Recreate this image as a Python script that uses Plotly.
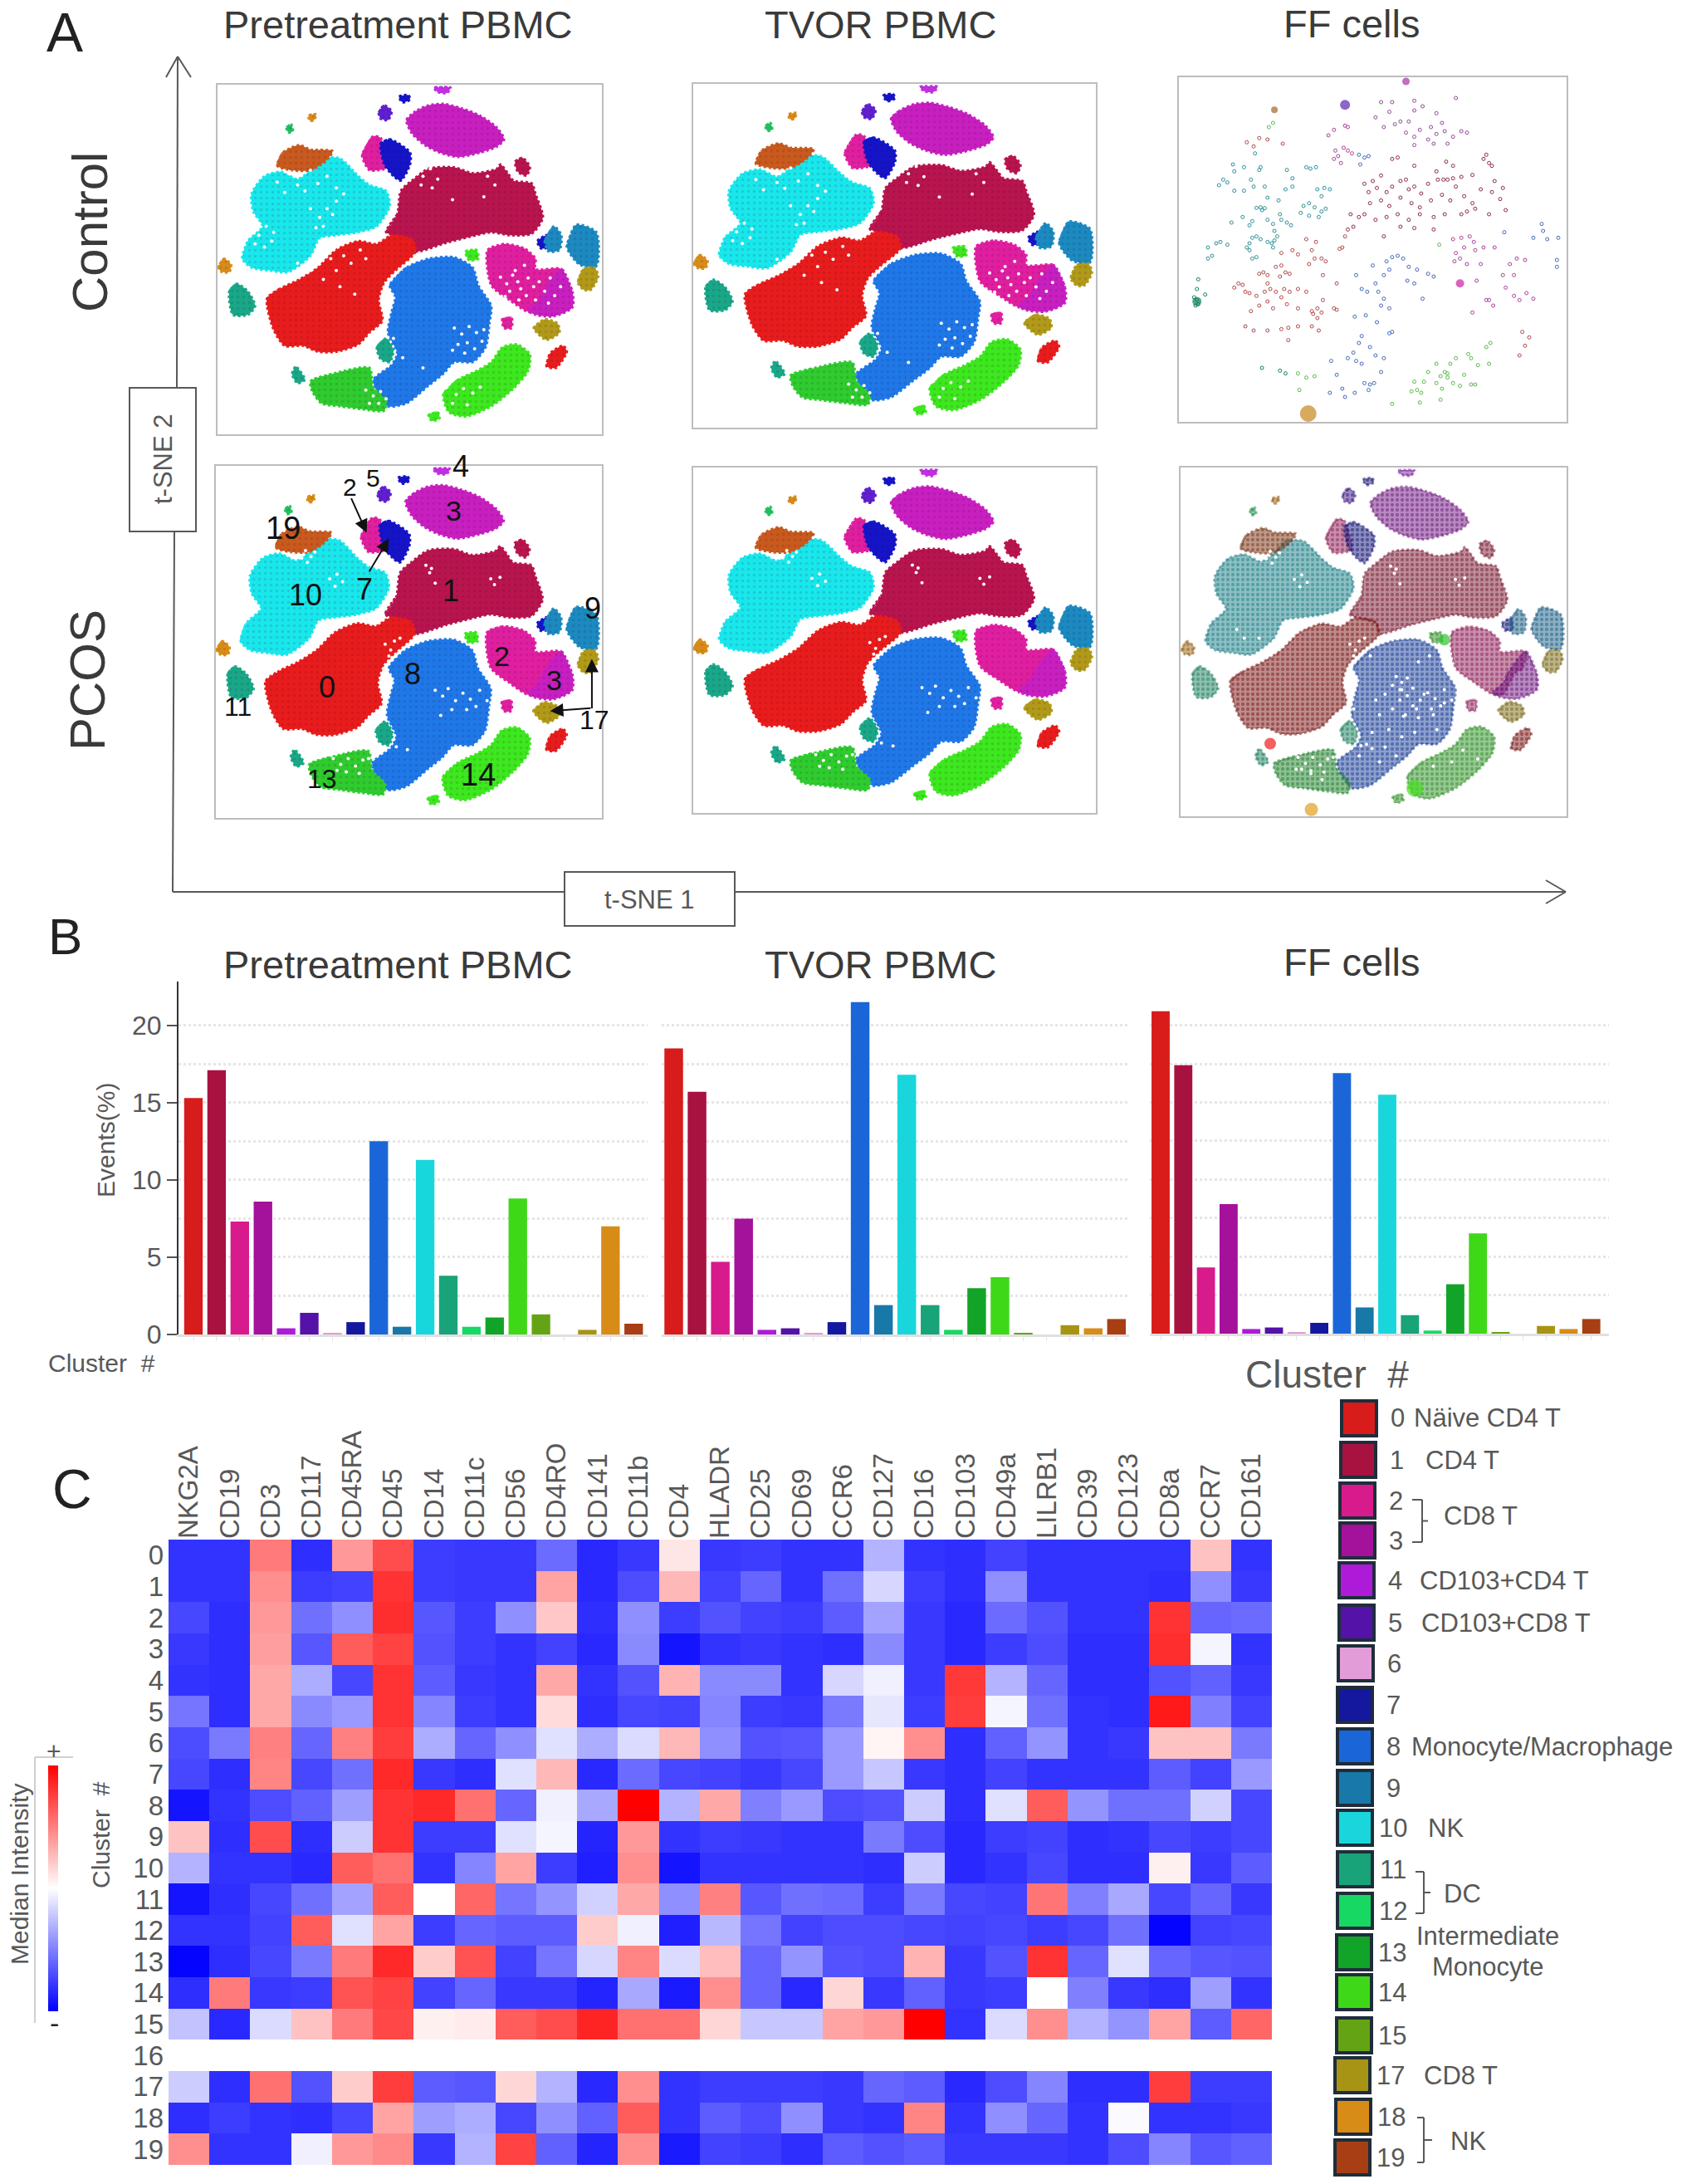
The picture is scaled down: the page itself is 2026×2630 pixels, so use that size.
#!/usr/bin/env python3
"""Mass cytometry figure: t-SNE maps (A), cluster frequencies (B), marker heatmap (C)."""

import plotly.graph_objects as go

W, H = 2026, 2630
FONT = "Liberation Sans"
DARK = "#3a3a3a"
GREY = "#585858"

clusters = [str(i) for i in range(20)]
cluster_colors = ["#d81b1b", "#a81240", "#d81b8c", "#a4119a", "#ae1bd8", "#5412a8", "#e29cd8",
                  "#14189e", "#1a66d8", "#1878a8", "#18d6dc", "#18a478", "#18d864", "#12a428",
                  "#3fd818", "#64a414", "#cfcfcf", "#a89414", "#d88c18", "#a83e14"]

# Panel B, percent of events per cluster
events_pre = [15.3, 17.1, 7.3, 8.6, 0.4, 1.4, 0.1, 0.8, 12.5, 0.5, 11.3, 3.8, 0.5, 1.1, 8.8, 1.3, 0.0, 0.3, 7.0, 0.7]
events_tvor = [18.5, 15.7, 4.7, 7.5, 0.3, 0.4, 0.1, 0.8, 21.5, 1.9, 16.8, 1.9, 0.3, 3.0, 3.7, 0.1, 0.0, 0.6, 0.4, 1.0]
events_ff = [20.9, 17.4, 4.3, 8.4, 0.3, 0.4, 0.1, 0.7, 16.9, 1.7, 15.5, 1.2, 0.2, 3.2, 6.5, 0.1, 0.0, 0.5, 0.3, 0.95]

# Panel C
markers = ["NKG2A", "CD19", "CD3", "CD117", "CD45RA", "CD45", "CD14", "CD11c", "CD56", "CD4RO", "CD141",
           "CD11b", "CD4", "HLADR", "CD25", "CD69", "CCR6", "CD127", "CD16", "CD103", "CD49a", "LILRB1",
           "CD39", "CD123", "CD8a", "CCR7", "CD161"]
heat = [
    [10, 10, 76, 9, 70, 85, 12, 11, 11, 21, 8, 11, 55, 11, 12, 10, 10, 35, 10, 9, 13, 10, 10, 10, 10, 62, 10],
    [10, 10, 72, 12, 13, 90, 12, 11, 11, 68, 8, 15, 64, 13, 20, 10, 22, 42, 12, 9, 28, 10, 10, 10, 9, 28, 11],
    [14, 9, 70, 22, 28, 91, 17, 12, 28, 61, 9, 28, 12, 16, 13, 12, 18, 32, 11, 8, 21, 16, 10, 10, 90, 20, 21],
    [11, 9, 69, 17, 82, 87, 16, 12, 10, 13, 8, 27, 4, 10, 11, 10, 9, 27, 11, 8, 12, 15, 9, 9, 91, 48, 10],
    [10, 9, 67, 34, 14, 90, 18, 11, 10, 67, 10, 16, 65, 27, 27, 10, 42, 47, 11, 89, 35, 20, 9, 9, 16, 19, 11],
    [23, 9, 67, 27, 30, 90, 26, 12, 10, 57, 9, 14, 13, 26, 12, 11, 24, 45, 12, 88, 48, 22, 10, 9, 95, 25, 13],
    [15, 24, 75, 20, 75, 88, 34, 20, 28, 44, 34, 43, 64, 28, 16, 17, 30, 52, 72, 9, 19, 29, 10, 11, 62, 62, 24],
    [14, 9, 74, 14, 22, 92, 11, 9, 44, 64, 8, 21, 14, 13, 11, 14, 30, 39, 11, 9, 13, 10, 10, 10, 18, 13, 30],
    [4, 10, 15, 19, 31, 90, 92, 78, 20, 47, 33, 100, 35, 67, 25, 30, 15, 16, 40, 9, 44, 82, 29, 22, 22, 41, 14],
    [62, 9, 85, 9, 40, 90, 12, 12, 44, 48, 7, 70, 10, 12, 11, 10, 10, 24, 15, 8, 12, 13, 9, 10, 14, 12, 14],
    [35, 10, 10, 8, 82, 78, 10, 26, 68, 12, 6, 72, 4, 10, 10, 10, 10, 9, 40, 8, 10, 14, 9, 9, 53, 11, 18],
    [4, 9, 14, 22, 32, 82, 50, 80, 23, 29, 41, 67, 28, 75, 17, 22, 21, 12, 24, 14, 13, 77, 25, 33, 14, 20, 11],
    [10, 10, 13, 82, 44, 68, 12, 20, 18, 18, 60, 47, 6, 36, 23, 13, 15, 15, 14, 13, 14, 12, 14, 22, 1, 13, 14],
    [1, 9, 14, 24, 76, 92, 60, 84, 13, 23, 42, 74, 43, 63, 20, 29, 16, 15, 65, 11, 16, 90, 20, 44, 20, 17, 16],
    [9, 76, 11, 12, 84, 87, 13, 20, 11, 11, 7, 33, 5, 72, 20, 8, 58, 11, 19, 11, 12, 50, 25, 11, 9, 31, 10],
    [38, 8, 43, 62, 76, 86, 53, 54, 82, 85, 93, 78, 78, 58, 39, 39, 68, 70, 100, 10, 43, 72, 35, 29, 68, 18, 80],
    [None] * 27,
    [40, 9, 78, 16, 60, 88, 18, 17, 58, 35, 8, 72, 10, 12, 12, 12, 11, 20, 18, 8, 15, 26, 9, 9, 88, 12, 12],
    [9, 12, 10, 9, 14, 68, 31, 34, 14, 28, 19, 82, 10, 18, 15, 28, 11, 10, 74, 10, 28, 20, 10, 49, 10, 10, 11],
    [72, 10, 10, 47, 70, 73, 11, 35, 87, 19, 7, 72, 5, 13, 12, 9, 18, 16, 18, 11, 11, 11, 10, 15, 26, 17, 19],
]

# Panel A, cluster outlines (t-SNE units, y pointing down)
blob_0 = [[(582, 785), (620, 750), (670, 720), (720, 680), (770, 620), (830, 590), (880, 600), (920, 570), (975, 585),
           (985, 625), (930, 690), (900, 730), (885, 790), (895, 860), (860, 900), (830, 940), (770, 965), (720, 965),
           (680, 945), (630, 945), (600, 890)],
          [(1340, 1015), (1350, 970), (1385, 945), (1395, 965), (1365, 1020)]]
blob_1 = [[(905, 560), (935, 500), (945, 420), (975, 385), (1020, 345), (1090, 340), (1140, 360), (1205, 345), (1215, 330),
           (1235, 360), (1250, 385), (1300, 395), (1310, 430), (1330, 510), (1300, 565), (1240, 570), (1190, 560),
           (1150, 570), (1070, 595), (985, 625), (975, 590), (925, 570)],
          [(1255, 320), (1275, 308), (1295, 340), (1285, 368), (1262, 355)]]
blob_2 = [[(1180, 620), (1225, 600), (1280, 615), (1310, 650), (1310, 685), (1380, 685), (1370, 745), (1350, 760),
           (1320, 830), (1290, 830), (1240, 790), (1190, 740)],
          [(840, 300), (870, 235), (890, 240), (910, 340), (880, 350), (860, 350)],
          [(1220, 855), (1245, 850), (1245, 885), (1225, 885)]]
blob_3 = [[(960, 180), (985, 150), (1020, 130), (1060, 125), (1110, 140), (1160, 165), (1205, 205), (1225, 245),
           (1205, 270), (1160, 290), (1100, 305), (1050, 290), (1010, 265), (975, 225)],
          [(1380, 685), (1410, 760), (1410, 815), (1360, 845), (1310, 840), (1290, 825), (1320, 790), (1330, 760)]]
blob_4 = [[(1035, 70), (1080, 70), (1070, 88), (1045, 85)]]
blob_5 = [[(885, 155), (900, 130), (920, 150), (910, 180), (890, 175)]]
blob_7 = [[(890, 260), (915, 245), (970, 290), (970, 330), (945, 385), (925, 370), (900, 330)],
          [(940, 100), (965, 95), (970, 110), (950, 120)],
          [(1315, 590), (1340, 570), (1345, 610), (1325, 615)]]
blob_8 = [[(915, 740), (960, 680), (1020, 650), (1090, 645), (1140, 680), (1155, 740), (1190, 810), (1185, 870),
           (1175, 950), (1140, 1000), (1090, 1000), (1060, 1040), (1020, 1080), (960, 1140), (910, 1150), (880, 1100),
           (870, 1060), (920, 1010), (935, 970), (910, 900), (920, 830), (930, 780)]]
blob_9 = [[(1395, 610), (1420, 535), (1475, 560), (1475, 675), (1430, 670)],
          [(1335, 590), (1360, 540), (1380, 570), (1375, 620), (1345, 625)]]
blob_10 = [[(515, 650), (530, 590), (570, 540), (545, 490), (540, 430), (575, 370), (620, 355), (665, 380), (700, 350),
            (730, 310), (780, 310), (830, 370), (860, 400), (905, 420), (915, 470), (880, 540), (830, 560), (770, 570),
            (725, 580), (700, 640), (640, 695), (590, 690), (540, 680)]]
blob_11 = [[(480, 760), (500, 735), (530, 760), (550, 810), (530, 840), (490, 840)],
           [(650, 1040), (660, 1015), (685, 1060), (665, 1072)],
           [(880, 950), (905, 920), (925, 960), (915, 1000), (890, 990)]]
blob_12 = [[(635, 205), (648, 195), (652, 218), (640, 222)]]
blob_13 = [[(700, 1065), (760, 1040), (860, 1020), (870, 1085), (905, 1130), (900, 1165), (840, 1160), (780, 1150),
            (730, 1140), (705, 1100)]]
blob_14 = [[(1060, 1110), (1100, 1060), (1150, 1030), (1190, 1000), (1220, 950), (1260, 940), (1295, 975), (1290, 1030),
            (1250, 1090), (1190, 1150), (1120, 1185), (1075, 1170)],
           [(1120, 625), (1150, 620), (1155, 650), (1130, 655)],
           [(1020, 1180), (1045, 1170), (1050, 1190), (1030, 1200)]]
blob_17 = [[(1425, 730), (1440, 685), (1470, 680), (1480, 710), (1460, 755), (1440, 755)],
           [(1305, 885), (1335, 855), (1370, 870), (1375, 900), (1340, 925)]]
blob_18 = [[(450, 680), (465, 650), (485, 670), (480, 695), (460, 695)],
           [(695, 165), (715, 160), (710, 180), (698, 182)]]
blob_19 = [[(610, 335), (625, 290), (670, 265), (700, 280), (760, 285), (740, 320), (700, 350), (650, 350)]]

map_blobs = [("#b8144e", blob_1), ("#e81c1c", blob_0), ("#18e8ec", blob_10), ("#1e78e8", blob_8), ("#18a888", blob_11),
             ("#2ecc2e", blob_13), ("#3ce81e", blob_14), ("#e01fa0", blob_2), ("#c81fc0", blob_3), ("#c030e0", blob_4),
             ("#6020d0", blob_5), ("#1414c8", blob_7), ("#1a8ac0", blob_9), ("#20c060", blob_12), ("#b09a18", blob_17),
             ("#d88c18", blob_18), ("#c85a1e", blob_19)]
# the follicular fluid maps use duller inks
ff_inks = ["#7a1c34", "#7c1a1a", "#1e8088", "#1c3f98", "#1e8060", "#1f7f2c", "#2f8f28", "#90205a", "#701880", "#7a20a0",
           "#3a1880", "#18187a", "#1e5f86", "#1e8f4a", "#7a6a18", "#985f18", "#7a3518"]

# white flecks where the clusters thin out
flecks_control = [(1215, 712), (1232, 735), (1248, 705), (1262, 728), (1240, 760), (1270, 752), (1290, 715), (1305, 745),
                  (1285, 775), (1320, 728), (1335, 760), (1350, 715), (1310, 790), (1362, 775), (1265, 790), (1228, 778),
                  (1378, 745), (1345, 800), (1255, 690), (1280, 672), (1090, 885), (1110, 905), (1130, 880), (1150, 900),
                  (1165, 930), (1125, 935), (1100, 940), (1145, 955), (1170, 890), (1085, 960), (1118, 970), (540, 545),
                  (560, 570), (580, 540), (600, 560), (550, 600), (575, 610), (595, 590), (575, 355), (610, 390), (640, 360),
                  (665, 400), (700, 350), (720, 395), (745, 370), (770, 410), (685, 420), (630, 425), (700, 480), (725, 510),
                  (745, 480), (770, 455), (790, 430), (735, 540), (715, 545), (760, 500), (665, 665), (700, 690), (725, 660),
                  (755, 650), (790, 640), (810, 665), (770, 690), (835, 620), (850, 650), (735, 720), (780, 745), (820, 770),
                  (850, 1095), (870, 1115), (890, 1100), (860, 1140), (905, 1125), (885, 1140), (1070, 1085), (1095, 1110),
                  (1115, 1090), (1140, 1105), (1085, 1140), (1125, 1145), (1160, 1085), (985, 345), (1005, 370), (1025, 345),
                  (1045, 380), (1000, 400), (1030, 410), (1180, 370), (1200, 400), (1170, 440), (1085, 450), (925, 920),
                  (950, 985), (1005, 1020)]
flecks_pcos = [(1040, 815), (1060, 835), (1075, 810), (1095, 850), (1115, 825), (1135, 845), (1160, 815), (1085, 880),
               (1125, 880), (1150, 870), (1055, 900), (1180, 850), (765, 1045), (785, 1065), (805, 1045), (825, 1070),
               (845, 1050), (775, 1085), (800, 1090), (860, 1045), (835, 1095), (690, 345), (705, 365), (680, 370),
               (715, 350), (695, 385), (755, 440), (775, 425), (790, 450), (770, 465), (1015, 395), (1030, 405), (1025, 420),
               (905, 660), (920, 680), (930, 650), (945, 640), (915, 700), (1190, 440), (1215, 435), (1200, 460), (935, 1005),
               (965, 1015), (1040, 455)]
flecks_ff_pcos = [(1030, 770), (1045, 790), (1060, 775), (1020, 800), (1045, 815), (1000, 830), (975, 850), (1040, 850),
                  (1075, 870), (1105, 830), (1020, 880), (985, 900), (1050, 905), (1090, 910), (1130, 900), (1010, 950),
                  (965, 960), (1045, 975), (1080, 960), (950, 1000), (1000, 1010), (930, 1040), (985, 1060), (1030, 1040),
                  (960, 700), (1120, 700), (1090, 720), (1160, 860), (915, 880), (1140, 950), (760, 1085), (800, 1100),
                  (830, 1120), (1130, 1075), (1180, 1060), (1210, 1020), (1250, 1050), (600, 610), (620, 640), (660, 640)]
# solid spots on the PCOS follicular fluid map: x, y, colour, size
ff_pcos_spots = [(801, 1222, "#e0a020", 16), (690, 998, "#f01c1c", 14), (1080, 1150, "#44e020", 20), (1160, 645, "#30c030", 14)]

# Control follicular fluid map: single events (own units, y pointing down)
ff_teal = [(175, 415), (190, 395), (205, 405), (230, 435), (265, 435), (300, 420), (325, 350), (320, 360), (305, 300),
           (420, 360), (440, 390), (505, 355), (525, 350), (490, 350), (530, 430), (555, 425), (575, 430), (545, 455),
           (350, 460), (340, 420), (310, 497), (325, 495), (340, 498), (330, 505), (480, 490), (500, 480), (520, 495),
           (545, 510), (560, 500), (470, 515), (500, 525), (535, 530), (295, 545), (285, 560), (350, 540), (370, 555),
           (400, 540), (420, 550), (435, 560), (395, 520), (375, 580), (295, 605), (310, 600), (285, 625), (275, 640),
           (325, 610), (350, 620), (365, 625), (375, 615), (385, 600), (370, 640), (295, 680), (310, 675), (285, 650),
           (135, 640), (150, 670), (135, 680), (165, 625), (180, 620), (205, 630), (230, 365), (265, 350), (225, 340),
           (290, 395), (390, 470), (415, 430), (440, 420), (260, 530), (220, 550)]
ff_red = [(230, 785), (245, 770), (260, 775), (270, 800), (285, 805), (320, 735), (335, 730), (350, 740), (380, 710),
          (400, 705), (415, 730), (395, 745), (430, 735), (350, 770), (360, 790), (340, 800), (310, 815), (380, 800),
          (410, 790), (430, 800), (460, 790), (490, 800), (400, 820), (350, 835), (320, 850), (290, 870), (370, 860),
          (420, 845), (460, 860), (510, 870), (530, 860), (545, 875), (530, 895), (515, 880), (550, 830), (590, 860),
          (600, 865), (270, 925), (300, 940), (350, 940), (400, 935), (425, 930), (425, 975), (460, 925), (510, 925),
          (535, 940), (500, 700), (520, 680), (510, 650), (525, 620), (490, 610), (545, 680), (560, 690), (440, 650),
          (460, 665), (400, 660), (550, 740), (600, 770), (620, 640), (610, 645), (630, 600), (275, 260), (320, 245),
          (350, 250), (300, 275), (405, 265), (1260, 1030), (1280, 995), (1295, 965), (1270, 945)]
ff_crimson = [(700, 410), (715, 440), (730, 400), (745, 425), (760, 380), (780, 440), (800, 420), (830, 400), (850, 395),
              (860, 430), (880, 420), (905, 445), (930, 410), (965, 395), (985, 395), (1000, 395), (1020, 390), (1050, 385),
              (1090, 378), (960, 365), (995, 330), (1020, 345), (880, 345), (800, 320), (820, 315), (1130, 320), (1150, 335),
              (1160, 345), (1140, 305), (720, 480), (760, 470), (790, 490), (830, 460), (870, 480), (900, 495), (940, 470),
              (980, 450), (1010, 470), (700, 520), (680, 530), (740, 540), (780, 530), (820, 520), (860, 540), (900, 520),
              (950, 530), (990, 520), (650, 520), (660, 565), (640, 575), (880, 570), (950, 575), (770, 600), (830, 565),
              (1060, 455), (1090, 480), (1100, 500), (1120, 430), (1160, 440), (1190, 465), (1210, 505), (1070, 510),
              (1150, 520), (1170, 400), (1200, 425), (1030, 420), (1050, 520)]
ff_magenta = [(1020, 610), (1050, 605), (1080, 600), (1095, 620), (1060, 640), (1100, 650), (1130, 640), (1170, 640),
              (1030, 660), (1025, 690), (1045, 680), (1070, 700), (1120, 700), (1105, 760), (1150, 830), (1165, 850),
              (1140, 830), (1225, 700), (1250, 680), (1280, 685), (1210, 785), (1240, 815), (1260, 830), (1285, 805),
              (1310, 825), (1200, 740), (1090, 875), (1240, 740), (595, 290), (605, 310), (615, 335), (590, 320), (625, 280),
              (640, 290), (655, 300), (570, 235), (590, 215), (630, 200), (640, 205)]
ff_purple = [(740, 170), (770, 205), (790, 150), (810, 195), (830, 185), (860, 185), (880, 145), (880, 240), (900, 215),
             (930, 250), (950, 265), (960, 230), (980, 190), (990, 220), (1020, 240), (1050, 220), (1070, 225), (850, 225),
             (940, 205), (960, 155), (880, 110), (910, 130), (1030, 100), (760, 115), (800, 115), (1000, 265), (880, 270)]
ff_blue = [(680, 305), (700, 315), (715, 310), (685, 340), (800, 675), (820, 670), (840, 680), (780, 690), (730, 705),
           (790, 720), (860, 710), (890, 720), (930, 735), (950, 745), (670, 740), (770, 740), (740, 770), (750, 800),
           (770, 825), (710, 800), (690, 790), (855, 760), (880, 770), (910, 825), (665, 890), (705, 885), (760, 850),
           (790, 860), (745, 910), (790, 950), (800, 945), (690, 960), (680, 985), (720, 1000), (660, 1020), (670, 1050),
           (690, 1060), (640, 1040), (600, 1100), (580, 1050), (740, 1030), (770, 1040), (760, 1090), (700, 1130), (720, 1135),
           (735, 1130), (715, 1155), (665, 1165), (620, 1150), (575, 1165), (630, 1180), (1340, 555), (1345, 580), (1205, 585),
           (1400, 605), (1395, 685), (1310, 605), (1360, 610), (1395, 710)]
ff_green = [(870, 1160), (890, 1155), (905, 1165), (880, 1125), (915, 1125), (930, 1090), (960, 1060), (990, 1090), (1000, 1110),
            (1020, 1130), (980, 1150), (960, 1130), (975, 1190), (1045, 1140), (1085, 1135), (1100, 1135), (1060, 1100),
            (1075, 1025), (1085, 1040), (1110, 1065), (1150, 1060), (1140, 1000), (1155, 985), (1030, 1040), (1010, 1060),
            (900, 1200), (800, 1205), (1000, 1095), (975, 1105), (355, 205), (370, 190), (465, 1155), (520, 1105), (490, 1110),
            (460, 1095), (970, 630)]
ff_darkteal = [(85, 820), (95, 830), (100, 845), (90, 850), (125, 810), (95, 790), (100, 755), (330, 1075), (395, 1085), (415, 1095)]
ff_control_groups = [("#2a9098", ff_teal), ("#b04848", ff_red), ("#8a2a4a", ff_crimson), ("#a84098", ff_magenta),
                     ("#904898", ff_purple), ("#4468b8", ff_blue), ("#58b848", ff_green), ("#108060", ff_darkteal)]
# solid spots on the same map: x, y, colour, size
ff_control_spots = [(630, 125, "#5a28b0", 12), (497, 1240, "#c8861c", 20), (375, 143, "#a06a20", 8), (850, 40, "#a830a8", 9),
                    (1045, 770, "#d020a0", 10), (95, 835, "#108060", 11)]

# number labels on the PCOS pretreatment map: text, x, y, size
map_labels = [("4", 1110, 60, 36), ("5", 873, 100, 30), ("2", 810, 130, 30), ("3", 1090, 210, 34), ("19", 630, 270, 38),
              ("10", 690, 495, 36), ("7", 850, 475, 36), ("1", 1082, 480, 36), ("9", 1465, 540, 36), ("2", 1220, 700, 34),
              ("3", 1362, 780, 34), ("0", 748, 805, 36), ("8", 980, 760, 36), ("11", 508, 870, 32), ("17", 1470, 915, 32),
              ("13", 735, 1115, 32), ("14", 1155, 1100, 38)]
# arrows on the same map: head x, y, tail x, y
map_arrows = [(855, 285, 812, 165), (915, 305, 860, 420), (1463, 710, 1463, 880), (1350, 885, 1463, 875)]

# Legend text on the right
legend_ids = ["0", "1", "2", "3", "4", "5", "6", "7", "8", "9", "10", "11", "12", "13", "14", "15", "17", "18", "19"]
legend_names = {"0": "Näive CD4 T", "1": "CD4 T", "4": "CD103+CD4 T", "5": "CD103+CD8 T", "8": "Monocyte/Macrophage",
                "10": "NK", "17": "CD8 T"}
legend_name_x = {"0": 1701, "1": 1715, "4": 1708, "5": 1710, "8": 1698, "10": 1718, "17": 1713}
legend_y = [1708, 1758, 1807, 1855, 1903, 1954, 2003, 2053, 2103, 2153, 2201, 2251, 2301, 2351, 2399, 2451, 2499, 2549, 2598]
legend_x = [1637, 1636, 1635, 1635, 1634, 1634, 1633, 1632, 1632, 1632, 1632, 1632, 1632, 1631, 1631, 1631, 1629, 1630, 1629]


def fx(x):
    return x / W


def fy(y):
    return 1 - y / H


def tint(hex_color, alpha=0.5):
    r, g, b = (int(hex_color[i:i + 2], 16) for i in (1, 3, 5))
    return f"rgba({r},{g},{b},{alpha})"


fig = go.Figure()
axes = {}
shapes = []
notes = []
frame = dict(showline=True, mirror=True, linecolor="#bdbdbd", linewidth=2, showgrid=False, zeroline=False,
             showticklabels=False, ticks="")


def add_axes(n, left, top, right, bottom, xcfg, ycfg):
    axes[f"xaxis{n}"] = dict(domain=[fx(left), fx(right)], anchor=f"y{n}", **xcfg)
    axes[f"yaxis{n}"] = dict(domain=[fy(bottom), fy(top)], anchor=f"x{n}", **ycfg)


def text(x, y, s, size, color=GREY, angle=0, anchor="center"):
    notes.append(dict(x=fx(x), y=fy(y), xref="paper", yref="paper", text=s, showarrow=False, textangle=angle,
                      xanchor=anchor, yanchor="middle", font=dict(family=FONT, size=size, color=color)))


def line(x0, y0, x1, y1, color=GREY, width=2):
    shapes.append(dict(type="line", xref="paper", yref="paper", x0=fx(x0), y0=fy(y0), x1=fx(x1), y1=fy(y1),
                       line=dict(color=color, width=width)))


def box(x0, y0, x1, y1, color=GREY, fill="rgba(0,0,0,0)", width=2):
    shapes.append(dict(type="rect", xref="paper", yref="paper", x0=fx(x0), y0=fy(y0), x1=fx(x1), y1=fy(y1),
                       line=dict(color=color, width=width), fillcolor=fill))


def brace(x0, xm, x1, y0, y1):
    line(x0, y0, xm, y0)
    line(xm, y0, xm, y1)
    line(x0, y1, xm, y1)
    line(xm, (y0 + y1) / 2, x1, (y0 + y1) / 2)


def outline_xy(polys):
    xs, ys = [], []
    for poly in polys:
        for px, py in poly + poly[:2]:
            xs.append(px)
            ys.append(py)
        xs.append(None)
        ys.append(None)
    return xs, ys


def add_spots(n, spots):
    fig.add_trace(go.Scatter(x=[s[0] for s in spots], y=[s[1] for s in spots], mode="markers",
                             marker=dict(color=[s[2] for s in spots], size=[s[3] for s in spots], line_width=0),
                             hoverinfo="skip", xaxis=f"x{n}", yaxis=f"y{n}"))


def add_map(n, left, top, right, bottom, flecks, dense_ff=False):
    add_axes(n, left, top, right, bottom, dict(range=[448, 1490], **frame), dict(range=[1245, 60], **frame))
    for i, (color, polys) in enumerate(map_blobs):
        xs, ys = outline_xy(polys)
        if dense_ff:
            # tinted ground under the dots, the cells are dense enough to merge at this size
            ground = tint(ff_inks[i])
            fig.add_trace(go.Scatter(x=xs, y=ys, mode="lines", fill="toself", fillcolor=ground,
                                     fillpattern=dict(shape=".", fgcolor=ff_inks[i], bgcolor=ground, size=6, solidity=0.4),
                                     line=dict(color=ground, width=3, dash="dot", shape="spline", smoothing=0.7),
                                     hoverinfo="skip", xaxis=f"x{n}", yaxis=f"y{n}"))
        else:
            fig.add_trace(go.Scatter(x=xs, y=ys, mode="lines", fill="toself", fillcolor=color,
                                     fillpattern=dict(shape=".", fgcolor="rgba(60,0,40,0.25)", bgcolor=color, size=7, solidity=0.2),
                                     line=dict(color=color, width=3, dash="dot", shape="spline", smoothing=0.7),
                                     hoverinfo="skip", xaxis=f"x{n}", yaxis=f"y{n}"))
    fig.add_trace(go.Scatter(x=[p[0] for p in flecks], y=[p[1] for p in flecks], mode="markers",
                             marker=dict(color="white", size=4), hoverinfo="skip", xaxis=f"x{n}", yaxis=f"y{n}"))


# Panel A
add_map(1, 262, 102, 725, 523, flecks_control)
add_map(2, 835, 101, 1320, 515, flecks_control)
add_map(4, 260, 561, 725, 985, flecks_pcos)
add_map(5, 835, 563, 1320, 979, flecks_pcos)
add_map(6, 1422, 563, 1887, 983, flecks_pcos + flecks_ff_pcos, dense_ff=True)
add_spots(6, ff_pcos_spots)

# the control follicular fluid map is sparse enough to draw event by event
add_axes(3, 1420, 93, 1887, 508, dict(range=[30, 1430], **frame), dict(range=[1270, 25], **frame))
for color, dots in ff_control_groups:
    fig.add_trace(go.Scatter(x=[p[0] for p in dots], y=[p[1] for p in dots], mode="markers",
                             marker=dict(symbol="circle-open", color=color, size=4, line=dict(width=1, color=color)),
                             hoverinfo="skip", xaxis="x3", yaxis="y3"))
add_spots(3, ff_control_spots)

for s, x, y, size in map_labels:
    notes.append(dict(x=x, y=y, xref="x4", yref="y4", text=s, showarrow=False,
                      font=dict(family=FONT, size=size, color="#111111")))
for hx, hy, tx, ty in map_arrows:
    notes.append(dict(x=hx, y=hy, xref="x4", yref="y4", ax=tx, ay=ty, axref="x4", ayref="y4", text="", showarrow=True,
                      arrowhead=2, arrowsize=1.6, arrowwidth=2, arrowcolor="#111111"))

# t-SNE axes drawn around the maps
line(214, 68, 213, 466)
line(214, 68, 200, 93)
line(214, 68, 230, 93)
box(156, 467, 236, 640)
text(196, 553, "t-SNE 2", 31, angle=-90)
line(210, 640, 208, 1074)
line(208, 1074, 680, 1074)
box(680, 1050, 885, 1115)
text(782, 1083, "t-SNE 1", 31)
line(885, 1074, 1886, 1074)
line(1886, 1074, 1862, 1060)
line(1886, 1074, 1862, 1088)

# Panel B
bar_frames = [(7, events_pre, 215, 780, -0.645, 19.6, 1607),
              (8, events_tvor, 797, 1360, -0.517, 19.54, 1607),
              (9, events_ff, 1385, 1938, -0.476, 19.78, 1606)]
for n, values, left, right, x0, x1, base in bar_frames:
    first = n == 7
    add_axes(n, left, 1190, right, base,
             dict(range=[x0, x1], tickvals=list(range(20)), showticklabels=False, ticks="outside", ticklen=5,
                  tickcolor="#e3e3e3", showline=True, linecolor="#e0e0e0", linewidth=3, showgrid=False, zeroline=False),
             dict(range=[0, 22.4], dtick=5, showgrid=True, gridcolor="#e6e6e6", griddash="dot", gridwidth=3,
                  minor=dict(dtick=2.5, showgrid=True, gridcolor="#e6e6e6", griddash="dot", gridwidth=3, ticks=""),
                  zeroline=False, showticklabels=first, ticks="outside" if first else "", ticklen=12, tickwidth=2,
                  tickcolor="#555555", showline=first, linecolor="#333333", linewidth=2,
                  tickfont=dict(family=FONT, size=32, color=GREY)))
    fig.add_trace(go.Bar(x=list(range(20)), y=values, width=0.8, marker=dict(color=cluster_colors, line_width=0),
                         xaxis=f"x{n}", yaxis=f"y{n}"))

line(214, 1182, 214, 1190, color="#333333")
text(127, 1373, "Events(%)", 30, angle=-90)
text(122, 1641, "Cluster  #", 30)

# Panel C
add_axes(10, 203, 1854, 1532, 2607,
         dict(type="category", side="top", tickangle=-90, ticks="", showgrid=False, zeroline=False, showline=False,
              tickmode="array", tickvals=markers, ticktext=markers,
              tickfont=dict(family=FONT, size=33, color=GREY)),
         dict(type="category", autorange="reversed", ticks="", showgrid=False, zeroline=False, showline=False,
              tickmode="array", tickvals=clusters, ticktext=clusters, ticklabelstandoff=5,
              tickfont=dict(family=FONT, size=33, color=GREY)))
fig.add_trace(go.Heatmap(z=heat, x=markers, y=clusters, zmin=0, zmax=100, hoverongaps=False,
                         colorscale=[[0, "#0000ff"], [0.5, "#ffffff"], [1, "#ff0000"]],
                         colorbar=dict(x=fx(58), xanchor="left", y=fy(2422), yanchor="bottom", len=296 / H, lenmode="fraction",
                                       thickness=12, thicknessmode="pixels", showticklabels=False, ticks="", outlinewidth=0,
                                       xpad=0, ypad=0),
                         xaxis="x10", yaxis="y10"))

text(23, 2257, "Median Intensity", 30, angle=-90)
text(121, 2210, "Cluster  #", 30, angle=-90)
text(65, 2108, "+", 30)
text(65, 2436, "-", 34, color="#222222")
line(42, 2116, 42, 2436, color="#cfcfcf")
line(42, 2116, 88, 2116, color="#cfcfcf")

# Legend
text(1598, 1655, "Cluster  #", 46)
for cid, cx, cy in zip(legend_ids, legend_x, legend_y):
    box(cx - 21, cy - 21, cx + 21, cy + 21, color="#1f2d3a", fill=cluster_colors[int(cid)], width=4)
    text(cx + 46, cy, cid, 31)
    if cid in legend_names:
        text(legend_name_x[cid], cy, legend_names[cid], 31, anchor="left")

brace(1701, 1713, 1720, 1806, 1857)
text(1737, 1825, "CD8 T", 31, anchor="left")
brace(1705, 1715, 1723, 2254, 2304)
text(1737, 2280, "DC", 31, anchor="left")
text(1792, 2331, "Intermediate", 31)
text(1792, 2368, "Monocyte", 31)
brace(1707, 1715, 1725, 2550, 2604)
text(1745, 2578, "NK", 31, anchor="left")

# Panel letters and headings
text(78, 39, "A", 66, color="#222222")
text(78, 1127, "B", 62, color="#222222")
text(87, 1793, "C", 66, color="#222222")
text(108, 280, "Control", 60, color=DARK, angle=-90)
text(105, 819, "PCOS", 60, color=DARK, angle=-90)
for y_row, y_ff in [(30, 28), (1161, 1158)]:
    text(479, y_row, "Pretreatment PBMC", 47, color=DARK)
    text(1060, y_row, "TVOR PBMC", 47, color=DARK)
    text(1628, y_ff, "FF cells", 47, color=DARK)

# autoexpand off: the colorbar would otherwise push a bottom margin and squeeze every panel
fig.update_layout(width=W, height=H, autosize=False, margin=dict(l=0, r=0, t=0, b=0, autoexpand=False), showlegend=False,
                  paper_bgcolor="white", plot_bgcolor="white", shapes=shapes, annotations=notes, **axes)

# drop the browser's default 8px body margin so the plot fills the window exactly
fig.write_html("out.html", config={"displayModeBar": False},
               post_script="document.body.style.margin='0';document.documentElement.style.overflow='hidden';")
